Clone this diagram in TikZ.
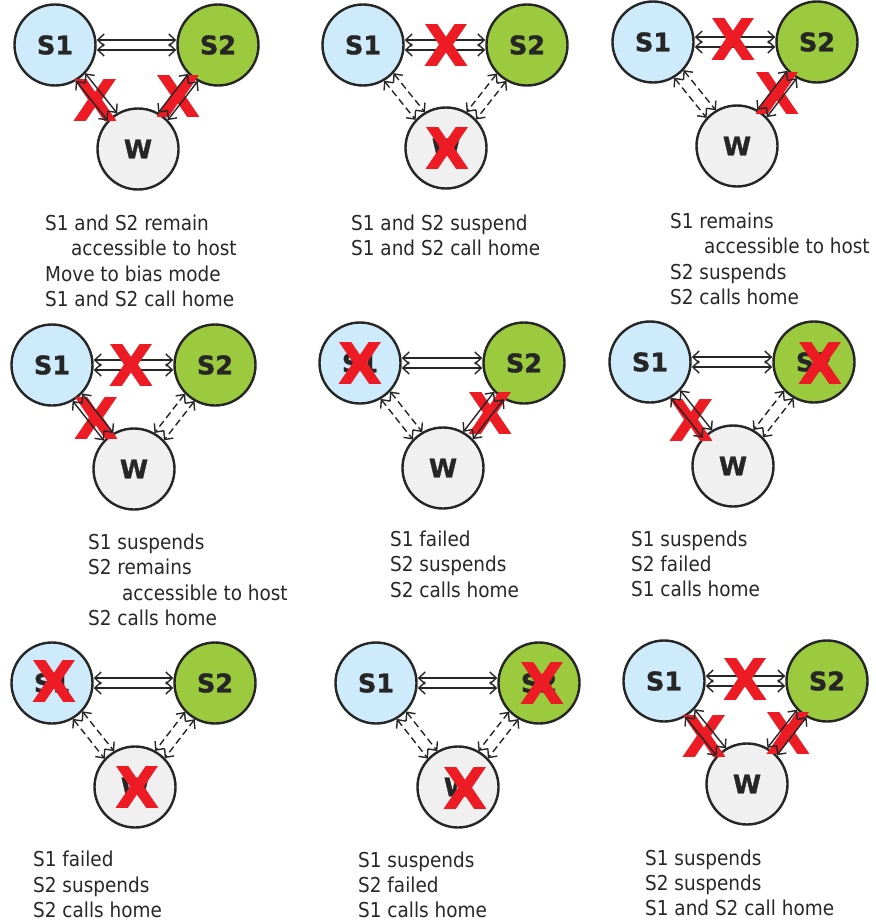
\documentclass[tikz,border=0pt]{standalone}
\usepackage{fontspec}
\setmainfont{DejaVu Sans Condensed}
\newfontfamily\lblfam{DejaVu Sans}[FakeBold=1.4]
\newfontfamily\xfam{DejaVu Sans}[FakeBold=1.8]
\usetikzlibrary{arrows.meta,calc}
\definecolor{sblue}{RGB}{205,235,250}
\definecolor{sgreen}{RGB}{155,202,62}
\definecolor{wgray}{RGB}{240,240,240}
\definecolor{edgec}{RGB}{38,38,38}
\definecolor{xred}{RGB}{237,28,36}
\definecolor{txtc}{RGB}{40,40,40}
\tikzset{
  circ/.style={circle, draw=edgec, line width=2.4pt, minimum size=81pt, inner sep=0pt,
    font={\lblfam\bfseries\fontsize{25.5}{25.5}\selectfont}, text=edgec},
  sone/.style={circ, fill=sblue},
  stwo/.style={circ, fill=sgreen},
  wnode/.style={circ, fill=wgray},
  link/.style={line width=1.4pt, draw=edgec,
    {Straight Barb[length=6.5pt,width=12pt]}-{Straight Barb[length=6.5pt,width=12pt]}},
  dsolid/.style={link, shorten <=41pt, shorten >=41pt},
  ddash/.style={dsolid, dash pattern=on 7pt off 4pt},
  fail/.style={text=xred, inner sep=0pt, font={\xfam\bfseries\fontsize{56}{56}\selectfont}},
  desc/.style={text=txtc, inner sep=0pt, anchor=base west, font={\fontsize{20.5}{24}\selectfont}},
}
\newcommand\trio[4]{%
  \node[sone] (#1a) at (#2) {S1};
  \node[stwo] (#1b) at (#3) {S2};
  \node[wnode] (#1w) at (#4) {W};}
\newcommand\hpair[2]{%
  \draw[link] ([yshift=5pt]#1.east) -- ([yshift=5pt]#2.west);
  \draw[link] ([yshift=-5pt]#1.east) -- ([yshift=-5pt]#2.west);}
\newcommand\dpair[3]{%
  \draw[#3] ($(#1.center)!6pt!90:(#2.center)$) -- ($(#2.center)!6pt!-90:(#1.center)$);
  \draw[#3] ($(#1.center)!6pt!-90:(#2.center)$) -- ($(#2.center)!6pt!90:(#1.center)$);}
\begin{document}
\begin{tikzpicture}[x=1pt,y=-1pt]
\useasboundingbox[fill=white] (0,0) rectangle (875,923);
% ---------- nodes
\trio{p}{55,45}{218,45}{138,149}
\trio{q}{363,45}{527,45}{446,148}
\trio{r}{653,42}{817,42}{737,146}
\trio{s}{52,365}{215,365}{134,469}
\trio{t}{360,363}{524,363}{443,468}
\trio{u}{650,362}{814,362}{733,466}
\trio{v}{52,683}{215,683}{135,787}
\trio{w}{376,683}{539,683}{458,787}
\trio{z}{664,681}{827,681}{747,784}
% ---------- crosses under diagonal links
\node[fail] (xp1) at (95,100) {X};
\node[fail] (xp2) at (178,96) {X};
\node[fail] (xr2) at (777,93) {X};
\node[fail] (xs1) at (96,418) {X};
\node[fail] (xt2) at (490,413) {X};
\node[fail] (xu1) at (691,420) {X};
\node[fail] (xz1) at (704,736) {X};
\node[fail] (xz2) at (788,733) {X};
% ---------- links
\hpair{pa}{pb} \dpair{pa}{pw}{dsolid} \dpair{pb}{pw}{dsolid}
\hpair{qa}{qb} \dpair{qa}{qw}{ddash}  \dpair{qb}{qw}{ddash}
\hpair{ra}{rb} \dpair{ra}{rw}{ddash}  \dpair{rb}{rw}{dsolid}
\hpair{sa}{sb} \dpair{sa}{sw}{dsolid} \dpair{sb}{sw}{ddash}
\hpair{ta}{tb} \dpair{ta}{tw}{ddash}  \dpair{tb}{tw}{dsolid}
\hpair{ua}{ub} \dpair{ua}{uw}{dsolid} \dpair{ub}{uw}{ddash}
\hpair{va}{vb} \dpair{va}{vw}{ddash}  \dpair{vb}{vw}{ddash}
\hpair{wa}{wb} \dpair{wa}{ww}{ddash}  \dpair{wb}{ww}{ddash}
\hpair{za}{zb} \dpair{za}{zw}{dsolid} \dpair{zb}{zw}{dsolid}
% ---------- crosses on top
\node[fail] (xq0) at (446,45) {X};
\node[fail] (xqw) at (447,148) {X};
\node[fail] (xr0) at (733,39) {X};
\node[fail] (xs0) at (131,365) {X};
\node[fail] (xta) at (360,363) {X};
\node[fail] (xub) at (820,363) {X};
\node[fail] (xva) at (54,681) {X};
\node[fail] (xvw) at (137,787) {X};
\node[fail] (xwb) at (542,683) {X};
\node[fail] (xww) at (465,788) {X};
\node[fail] (xz0) at (745,679) {X};
% ---------- descriptions
\node[desc] (d1a) at (45,230.5) {S1 and S2 remain};
\node[desc] (d1b) at (71,255.8) {accessible to host};
\node[desc] (d1c) at (45,281) {Move to bias mode};
\node[desc] (d1d) at (45,306.3) {S1 and S2 call home};
\node[desc] (d2a) at (351,230) {S1 and S2 suspend};
\node[desc] (d2b) at (351,255) {S1 and S2 call home};
\node[desc] (d3a) at (670,228) {S1 remains};
\node[desc] (d3b) at (704,253) {accessible to host};
\node[desc] (d3c) at (670,279) {S2 suspends};
\node[desc] (d3d) at (670,304) {S2 calls home};
\node[desc] (d4a) at (88,549.5) {S1 suspends};
\node[desc] (d4b) at (88,574.5) {S2 remains};
\node[desc] (d4c) at (122,600.5) {accessible to host};
\node[desc] (d4d) at (88,625.5) {S2 calls home};
\node[desc] (d5a) at (390,546.5) {S1 failed};
\node[desc] (d5b) at (390,571.5) {S2 suspends};
\node[desc] (d5c) at (390,597.5) {S2 calls home};
\node[desc] (d6a) at (631,546.5) {S1 suspends};
\node[desc] (d6b) at (631,571.5) {S2 failed};
\node[desc] (d6c) at (631,596.5) {S1 calls home};
\node[desc] (d7a) at (33,866.5) {S1 failed};
\node[desc] (d7b) at (33,892.5) {S2 suspends};
\node[desc] (d7c) at (33,917.5) {S2 calls home};
\node[desc] (d8a) at (358,867.5) {S1 suspends};
\node[desc] (d8b) at (358,892.5) {S2 failed};
\node[desc] (d8c) at (358,917.5) {S1 calls home};
\node[desc] (d9a) at (645,865.5) {S1 suspends};
\node[desc] (d9b) at (645,890.5) {S2 suspends};
\node[desc] (d9c) at (645,915.5) {S1 and S2 call home};
\end{tikzpicture}
\end{document}
